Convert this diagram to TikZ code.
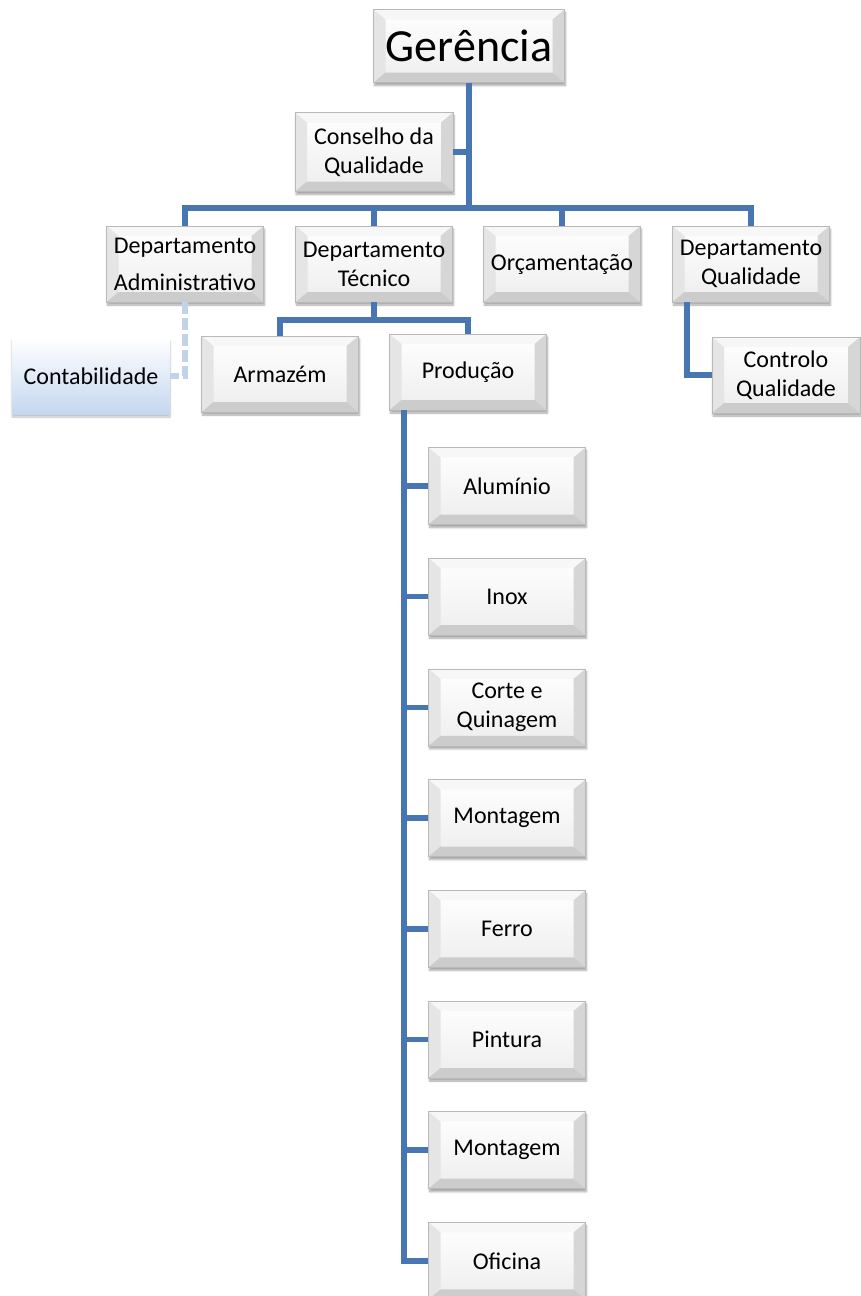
\documentclass[tikz,border=0pt]{standalone}
\usepackage{fontspec}
\setmainfont{Carlito}
\usetikzlibrary{shadows.blur}

\definecolor{linkblue}{RGB}{72,118,178}
\definecolor{dashblue}{RGB}{192,211,235}
\definecolor{contblue}{RGB}{196,215,240}

\tikzset{
  bevel/.style={
    minimum width=157pt, minimum height=76pt, inner sep=0pt, align=center,
    draw=gray!55, line width=0.6pt,
    top color=white, bottom color=gray!14,
    font=\fontsize{24}{29}\selectfont,
    blur shadow={shadow xshift=1pt, shadow yshift=-3pt, shadow opacity=35, shadow blur steps=6},
    path picture={
      \coordinate (bvnw) at (path picture bounding box.north west);
      \coordinate (bvne) at (path picture bounding box.north east);
      \coordinate (bvsw) at (path picture bounding box.south west);
      \coordinate (bvse) at (path picture bounding box.south east);
      \coordinate (bvinw) at ([shift={(12pt,-10pt)}]bvnw);
      \coordinate (bvine) at ([shift={(-12pt,-10pt)}]bvne);
      \coordinate (bvisw) at ([shift={(12pt,10pt)}]bvsw);
      \coordinate (bvise) at ([shift={(-12pt,10pt)}]bvse);
      \fill[gray!6] (bvnw) -- (bvne) -- (bvine) -- (bvinw) -- cycle;
      \fill[gray!20] (bvnw) -- (bvinw) -- (bvisw) -- (bvsw) -- cycle;
      \fill[gray!32] (bvne) -- (bvine) -- (bvise) -- (bvse) -- cycle;
      \fill[gray!40] (bvsw) -- (bvisw) -- (bvise) -- (bvse) -- cycle;
    }
  },
  contbox/.style={
    minimum width=158pt, minimum height=76pt, inner sep=0pt, align=center,
    top color=white, bottom color=contblue,
    font=\fontsize{24}{29}\selectfont,
    blur shadow={shadow xshift=0pt, shadow yshift=-3pt, shadow opacity=25, shadow blur steps=6}
  },
  link/.style={draw=linkblue, line width=5.5pt},
  dashlink/.style={draw=dashblue, line width=5.5pt, dash pattern=on 12pt off 4pt}
}

\begin{document}
\begin{tikzpicture}[x=1pt, y=-1pt]

            \useasboundingbox (0,0) rectangle (861,1296);

            \node[bevel, minimum width=191pt, minimum height=73pt, font=\fontsize{46}{50}\selectfont] (ger) at (469,46) {Gerência};
            \node[bevel, minimum width=158pt, minimum height=79pt] (cons) at (374,152) {Conselho da\\Qualidade};

            \node[bevel] (adm) at (185,264) {Departamento\\[8pt]Administrativo};
            \node[bevel] (tec) at (374,264) {Departamento\\Técnico};
            \node[bevel] (orc) at (562,264) {Orçamentação};
            \node[bevel] (qual) at (751,264) {Departamento\\Qualidade};

            \node[contbox] (cont) at (91,376) {Contabilidade};
            \node[bevel] (arm) at (280,374) {Armazém};
            \node[bevel] (prod) at (468,372) {Produção};
            \node[bevel, minimum width=148pt] (ctrl) at (786,375) {Controlo\\Qualidade};

            \foreach \nm/\txt [count=\k from 0] in {alu/Alumínio, inox/Inox, corte/Corte e\\Quinagem, mont/Montagem, ferro/Ferro, pint/Pintura, montb/Montagem, ofi/Oficina}
                \node[bevel, minimum height=77pt] (\nm) at (507,486+110.7*\k) {\txt};

            \coordinate (bus) at (0,208);
            \coordinate (tbus) at (0,320);
            \coordinate (pline) at ([xshift=15pt]prod.south west);

            \draw[link] (ger.south) -- (ger.south |- bus);
            \draw[link] (cons.east) -- (cons.east -| ger.south);
            \draw[link] (adm.north) -- (adm.north |- bus) -- (qual.north |- bus) -- (qual.north);
            \draw[link] (tec.north |- bus) -- (tec.north);
            \draw[link] (orc.north |- bus) -- (orc.north);

            \draw[link] (tec.south) -- (tec.south |- tbus);
            \draw[link] (arm.north) -- (arm.north |- tbus) -- (prod.north |- tbus) -- (prod.north);
            \draw[dashlink] (adm.south) |- (cont.east);
            \draw[link] ([xshift=15pt]qual.south west) |- (ctrl.west);

            \draw[link] (pline) |- (ofi.west);
            \foreach \nm in {alu, inox, corte, mont, ferro, pint, montb}
                \draw[link] (pline |- \nm.west) -- (\nm.west);

        \end{tikzpicture}
\end{document}
